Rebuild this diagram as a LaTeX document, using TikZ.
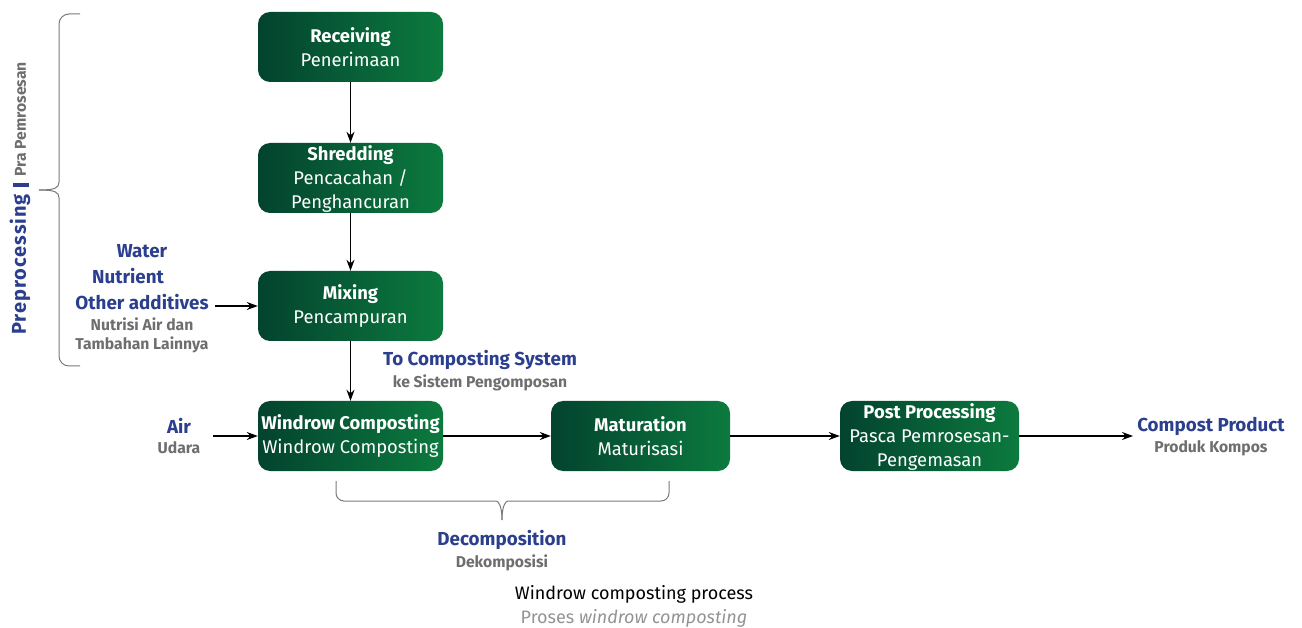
\documentclass[tikz,border=0pt]{standalone}
\usepackage{fontspec}
\setmainfont{Fira Sans}
\usetikzlibrary{arrows.meta}
\definecolor{gL}{HTML}{03432F}
\definecolor{gR}{HTML}{0C7A3E}
\definecolor{tblue}{HTML}{2B3F8E}
\definecolor{tgray}{HTML}{6E6E6E}
\definecolor{bgray}{HTML}{7A7A7A}
\tikzset{
 box/.style={rounded corners=12pt, left color=gL, right color=gR, draw=none, text=white, align=center, minimum height=70pt, inner sep=0pt, font=\fontsize{18.4}{24}\selectfont},
 arr/.style={-{Stealth[length=11pt,width=8pt]}, line width=1.1pt},
 bl/.style={text=tblue, font=\fontsize{18.8}{20}\selectfont\bfseries, inner sep=0pt},
 gl/.style={text=tgray, font=\fontsize{15.7}{17}\selectfont\bfseries, inner sep=0pt},
 brc/.style={draw=bgray, line width=1pt}
}
\newcommand{\toppad}{\rule{0pt}{17.5pt}}
\begin{document}
\begin{tikzpicture}[x=1pt,y=-1pt]
\useasboundingbox (0,0) rectangle (1302,628);
% boxes
\node[box, minimum width=185] (rec) at (350.5,47) {\textbf{Receiving}\\Penerimaan};
\node[box, minimum width=185] (shr) at (350.5,178) {\toppad\textbf{Shredding}\\Pencacahan /\\Penghancuran};
\node[box, minimum width=185] (mix) at (350.5,306) {\textbf{Mixing}\\Pencampuran};
\node[box, minimum width=185] (win) at (350.5,436) {\textbf{Windrow Composting}\\Windrow Composting};
\node[box, minimum width=179] (mat) at (640.5,436) {\textbf{Maturation}\\Maturisasi};
\node[box, minimum width=179] (post) at (929.5,436) {\toppad\textbf{Post Processing}\\Pasca Pemrosesan-\\Pengemasan};
% arrows
\draw[arr] (rec) -- (shr);
\draw[arr] (shr) -- (mix);
\draw[arr] (mix) -- (win);
\draw[arr] (win) -- (mat);
\draw[arr] (mat) -- (post);
% additive labels
\node[bl] (wat) at (142,251) {Water};
\node[bl] (nut) at (128,276) {Nutrient};
\node[bl] (oth) at (142,302) {Other additives};
\node[gl] (nad) at (142,324) {Nutrisi Air dan};
\node[gl] (tam) at (142,345) {Tambahan Lainnya};
\coordinate (addin) at (215,306);
\draw[arr] (addin) -- (mix.west);
% air
\node[bl] (air) at (179,426) {Air};
\node[gl] (uda) at (179,448) {Udara};
\coordinate (airin) at (213,436);
\draw[arr] (airin) -- (win.west);
% product
\node[bl] (prod) at (1211,426) {Compost Product};
\node[gl] (prk) at (1211,448) {Produk Kompos};
\coordinate (prodin) at (1133,436);
\draw[arr] (post.east) -- (prodin);
% to composting system
\node[bl] (tcs) at (480,360) {To Composting System};
\node[gl] (kes) at (480,383) {ke Sistem Pengomposan};
% decomposition brace
\draw[brc, rounded corners=8pt] (336,481) |- (488,501) .. controls (498,501) and (502,505) .. (502,520);
\draw[brc, rounded corners=8pt] (669,481) |- (516,501) .. controls (506,501) and (502,505) .. (502,520);
\node[bl] (dec) at (502,540) {Decomposition};
\node[gl] (dek) at (502,563) {Dekomposisi};
% preprocessing brace
\draw[brc, rounded corners=10pt] (80,14) -| (59,172) .. controls (59,188) and (55,190) .. (39,190);
\draw[brc, rounded corners=10pt] (80,366) -| (59,208) .. controls (59,192) and (55,190) .. (39,190);
\node[rotate=90, inner sep=0pt] (pre) at (20,198.5) {{\color{tblue}\fontsize{20}{22}\selectfont\bfseries\addfontfeature{LetterSpace=5}Preprocessing}\hspace{7pt}{\color{tblue}\rule[-3pt]{4.5pt}{16pt}}\hspace{6pt}{\color{tgray}\fontsize{15.7}{17}\selectfont\bfseries Pra Pemrosesan}};
% caption
\node[inner sep=0pt, font=\fontsize{18}{20}\selectfont] (cap1) at (634,594) {Windrow composting process};
\node[inner sep=0pt, text=gray!85, font=\fontsize{18}{20}\selectfont] (cap2) at (634,618) {Proses \textit{windrow composting}};
\end{tikzpicture}
\end{document}
